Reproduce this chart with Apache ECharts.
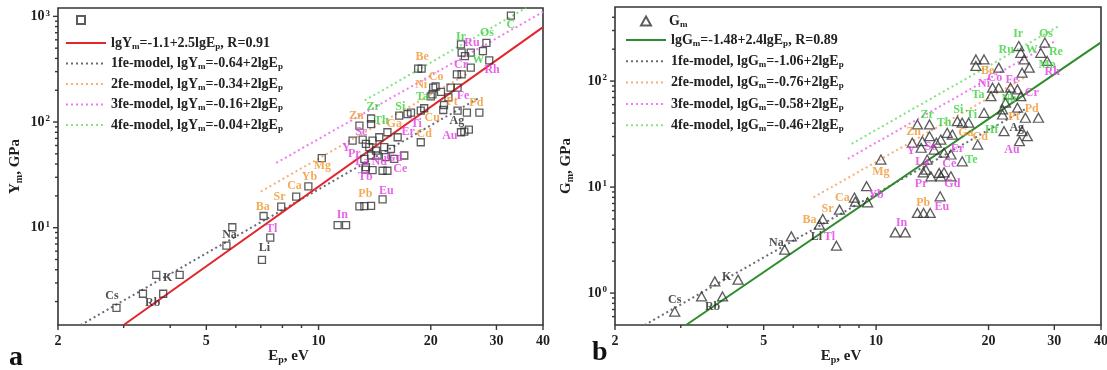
<!DOCTYPE html>
<html><head><meta charset="utf-8">
<script src="https://cdn.jsdelivr.net/npm/echarts@6/dist/echarts.min.js"></script>
<style>html,body{margin:0;padding:0;background:#fff}#c{width:1107px;height:370px}</style>
</head><body><div id="c"></div>
<script>
// ---------- tick values / labels ----------
const X_MAJOR = [2, 5, 10, 20, 30, 40];
const X_MAJOR_LABELS = ['2', '5', '10', '20', '30', '40'];
const X_MINOR = [3, 4, 6, 7, 8, 9];
const YA_MAJOR = [10, 100, 1000];
const YA_MAJOR_EXP = ['1', '2', '3'];
const YA_MINOR = [2,3,4,5,6,7,8,9,20,30,40,50,60,70,80,90,200,300,400,500,600,700,800,900];
const YB_MAJOR = [1, 10, 100];
const YB_MAJOR_EXP = ['0', '1', '2'];
const YB_MINOR = [0.6,0.7,0.8,0.9,2,3,4,5,6,7,8,9,20,30,40,50,60,70,80,90,200,300,400];

// ---------- panel a: Young's modulus Ym vs Ep ----------
const ptsA = [
 [2.87,1.74],[3.38,2.37],[3.83,2.37],[3.67,3.58],[4.24,3.58],[5.66,6.77],[5.87,10.1],
 [7.12,12.9],[7.42,8.05],[7.05,4.96],[7.94,15.8],[8.71,19.7],[9.39,24.6],[10.2,45.6],
 [11.25,10.6],[11.85,10.6],[12.87,15.9],[13.27,16.0],[13.83,16.1],[14.85,18.5],
 [13.35,35.4],[13.96,35.1],[14.85,34.6],[15.3,34.6],[13.4,37.5],[13.27,44.9],[13.83,48.2],
 [14.4,48.2],[15.16,46.5],[15.96,44.9],[12.34,66.7],[13.13,68.2],[13.4,62.1],[13.96,66.7],
 [14.55,71.8],[15.3,80.0],[16.3,71.8],[13.68,57.8],[14.26,53.7],[15.0,57.8],[15.64,55.7],
 [16.98,48.2],[13.83,108],[13.83,95.7],[12.87,92.3],[16.46,115],[17.32,119],[17.7,123],
 [18.8,128],[19.2,135],[18.8,64.4],[18.5,320],[18.9,320],[20.3,212],[20.6,217],[21.3,193],
 [20.2,183],[20.0,175],[22.6,212],[23.6,212],[22.3,171],[21.7,145],[21.6,130],[23.6,128],
 [25.0,123],[27.0,123],[24.1,80],[24.6,81],[25.3,84.6],[23.5,283],[24.2,283],[25.6,327],
 [24.1,542],[24.2,453],[24.7,421],[25.6,453],[27.6,469],[28.2,562],[28.7,383],[32.8,1015]
];
const labelsA = [
 ['Cs',2.79,2.26,'k'],['Rb',3.59,1.94,'k'],['K',3.94,3.33,'k'],['Na',5.77,8.47,'k'],
 ['Li',7.16,6.38,'k'],['Tl',7.48,9.64,'m'],['Ba',7.08,15.9,'o'],['Sr',7.86,19.7,'o'],
 ['Ca',8.62,25.0,'o'],['Yb',9.45,30.4,'o'],['Mg',10.24,38.5,'o'],['In',11.58,13.3,'m'],
 ['Pb',13.35,21.0,'o'],['Eu',15.19,22.4,'m'],['Tb',13.35,30.4,'m'],['Ce',16.56,36.1,'m'],
 ['Nd',14.55,42.0,'m'],['Gd',15.96,45.8,'m'],['La',13.1,42.0,'m'],['Pr',12.47,50.0,'m'],
 ['Y',11.87,56.9,'m'],['Sc',13.02,80.5,'m'],['Zn',12.63,114,'o'],['Zr',14.02,138,'g'],
 ['Th',14.73,102,'g'],['Ga',15.96,95.8,'o'],['Si',16.56,138,'g'],['Ti',18.28,95.8,'m'],
 ['Er',17.4,80.5,'m'],['Cu',20.17,109,'o'],['Cd',19.2,77.1,'o'],['Ta',18.97,172,'g'],
 ['Ni',18.85,223,'o'],['Co',20.68,265,'o'],['Be',18.97,409,'o'],['Pt',22.8,154,'o'],
 ['Pd',26.5,151,'o'],['Fe',24.4,176,'m'],['Ag',23.5,102,'k'],['Au',22.5,73.8,'m'],
 ['Cr',24.1,344,'m'],['W',26.8,391,'g'],['Rh',29.2,309,'m'],['Ru',25.8,566,'m'],
 ['Ir',24.1,644,'g'],['Os',28.3,703,'g'],['C',32.8,836,'g']
];
// line end points
const fitA = [[3.0,1.2],[40,790]];
const fe1A = [[2.3,1.2],[27,170]];
const fe2A = [[7.0,22],[25,285]];
const fe3A = [[7.7,41],[40,1100]];
const fe4A = [[13.3,160],[36,1200]];
const LEG_A = ['lgY{s|m}=-1.1+2.5lgE{s|p}, R=0.91','1fe-model, lgY{s|m}=-0.64+2lgE{s|p}',
 '2fe-model, lgY{s|m}=-0.34+2lgE{s|p}','3fe-model, lgY{s|m}=-0.16+2lgE{s|p}','4fe-model, lgY{s|m}=-0.04+2lgE{s|p}'];

// ---------- panel b: shear modulus Gm vs Ep ----------
const ptsB = [
 [2.89,0.670],[3.41,0.929],[3.88,0.929],[3.70,1.29],[4.27,1.34],[5.69,2.57],[5.93,3.43],
 [7.05,4.42],[7.20,5.01],[7.83,2.80],[7.98,6.13],[8.75,7.96],[8.80,7.29],[9.43,10.2],
 [9.49,7.18],[10.3,18.2],[11.25,3.74],[11.97,3.74],[12.9,5.70],[13.4,5.70],[13.96,5.70],
 [14.84,8.19],[13.37,13.8],[14.02,12.65],[14.9,12.65],[15.86,12.65],[15.2,13.8],[12.9,39.0],
 [13.9,39.0],[12.5,26.2],[13.3,27.1],[13.9,30.2],[14.5,26.2],[14.9,28.1],[15.5,32.5],
 [16.0,31.3],[13.2,23.5],[14.3,22.6],[15.2,21.1],[15.86,20.3],[13.7,18.2],[13.6,14.6],
 [14.75,13.6],[17.0,17.5],[18.7,25.2],[16.5,41.9],[17.0,40.5],[17.7,40.5],[19.45,50.2],
 [18.5,160],[19.45,160],[18.5,139],[21.3,134],[20.5,86.6],[21.3,86.6],[22.9,86.6],
 [23.9,83.5],[20.3,72.1],[22.7,74.8],[24.4,72.1],[22.2,62.5],[21.8,54.0],[23.9,56.1],
 [25.1,45.1],[27.2,45.1],[21.8,48.4],[22.0,33.7],[24.6,33.7],[25.4,30.2],[24.2,27.1],
 [24.1,214],[24.4,185],[24.9,160],[25.7,134],[24.6,120],[27.6,185],[28.3,231],[28.7,155]
];
const labelsB = [
 ['Cs',2.89,0.865,'k'],['Rb',3.65,0.742,'k'],['K',3.98,1.43,'k'],['Na',5.41,2.99,'k'],
 ['Li',6.92,3.40,'k'],['Ba',6.63,4.93,'o'],['Tl',7.50,3.40,'m'],['Sr',7.41,6.26,'o'],
 ['Ca',8.12,7.96,'o'],['Yb',10.0,8.49,'m'],['Mg',10.3,14.0,'o'],['In',11.7,4.62,'m'],
 ['Pb',13.37,7.14,'o'],['Eu',15.0,6.54,'m'],['Pr',13.2,10.8,'m'],['Gd',16.0,10.8,'m'],
 ['La',13.3,17.4,'m'],['Ce',15.7,16.7,'m'],['Te',18.0,18.2,'g'],['Y',12.4,22.1,'m'],
 ['Sc',14.0,24.1,'m'],['Er',16.5,23.1,'m'],['Zn',12.6,33.5,'o'],['Zr',13.7,48.4,'g'],
 ['Th',15.2,40.7,'g'],['Si',16.6,54.0,'g'],['Ti',18.0,48.4,'g'],['Ga',17.4,32.7,'o'],
 ['Cd',19.0,30.0,'o'],['Hf',20.4,35.0,'g'],['Ag',23.8,36.5,'k'],['Au',23.1,22.6,'m'],
 ['Pt',23.4,46.4,'o'],['Pd',26.1,55.2,'o'],['Nb',22.7,68.6,'g'],['Ta',18.75,74.8,'g'],
 ['Ni',19.45,93.1,'m'],['Co',20.8,108,'m'],['Fe',23.1,101.5,'m'],['Be',19.9,126,'o'],
 ['Cr',26.1,78.2,'m'],['Mo',28.7,141,'g'],['Rh',29.6,121,'m'],['Re',30.3,187,'g'],
 ['W',26.1,199,'g'],['Ru',22.3,199,'g'],['Ir',24.0,276,'g'],['Os',28.5,276,'g']
];
const fitB = [[3.1,0.5],[40,232]];
const fe1B = [[2.4,0.5],[25,54]];
const fe2B = [[6.8,8.0],[25,108]];
const fe3B = [[8.4,18.5],[30,236]];
const fe4B = [[8.6,25.6],[31,334]];
const LEG_B = ['lgG{s|m}=-1.48+2.4lgE{s|p}, R=0.89','1fe-model, lgG{s|m}=-1.06+2lgE{s|p}',
 '2fe-model, lgG{s|m}=-0.76+2lgE{s|p}','3fe-model, lgG{s|m}=-0.58+2lgE{s|p}','4fe-model, lgG{s|m}=-0.46+2lgE{s|p}'];

// ---------- styling ----------
const FF = '"Liberation Serif", "DejaVu Serif", serif';
const AX = '#353535';
const LBL_COL = {k:'#262626', o:'#f0962f', m:'#e43ce4', g:'#3ad23a'};
const LINE_COL = ['#6a6a7e', '#f6b07a', '#f07cf0', '#82e482'];
const DOT = [2, 3];

const richSub = {s:{fontSize:9, fontWeight:'bold', fontFamily:FF, color:'#222', verticalAlign:'bottom', lineHeight:16, padding:[7,0,0,0]}};

function mkTicks(gi, vals, dir, len, labels, edge) {
  const data = vals.map(v => dir === 'x' ? [v, edge] : [edge, v]);
  return {
    type:'custom', xAxisIndex:gi, yAxisIndex:gi, silent:true, clip:false, z:6, data,
    renderItem(params, api) {
      const p = api.coord([api.value(0), api.value(1)]);
      const ch = [];
      if (dir === 'x') {
        ch.push({type:'line', shape:{x1:p[0], y1:p[1], x2:p[0], y2:p[1] + len}, style:{stroke:AX, lineWidth:1.4}});
        if (labels) ch.push({type:'text', x:p[0], y:p[1] + 9, style:{text:labels[params.dataIndex], font:'bold 14px ' + FF, fill:'#1e1e1e', align:'center', verticalAlign:'top', textAlign:'center', textVerticalAlign:'top'}});
      } else {
        ch.push({type:'line', shape:{x1:p[0] - len, y1:p[1], x2:p[0], y2:p[1]}, style:{stroke:AX, lineWidth:1.4}});
        if (labels) ch.push({type:'text', x:p[0] - 8, y:p[1], style:{text:'10{sup|' + labels[params.dataIndex] + '}', font:'bold 14px ' + FF, fill:'#1e1e1e', align:'right', verticalAlign:'middle', textAlign:'right', textVerticalAlign:'middle',
          rich:{sup:{fontSize:9, fontWeight:'bold', fontFamily:FF, fill:'#1e1e1e', color:'#1e1e1e', verticalAlign:'top', padding:[0,0,6,1]}}}});
      }
      return {type:'group', children:ch};
    }
  };
}

function mkLabels(gi, arr) {
  return {
    type:'scatter', xAxisIndex:gi, yAxisIndex:gi, silent:true, symbolSize:1, z:7,
    itemStyle:{color:'rgba(0,0,0,0)'}, emphasis:{disabled:true},
    data: arr.map(d => ({name:d[0], value:[d[1], d[2]], label:{color:LBL_COL[d[3]]}})),
    label:{show:true, position:'inside', formatter:p => p.name, fontFamily:FF, fontWeight:'bold', fontSize:12}
  };
}

function mkLine(gi, name, data, color, width, type) {
  return {type:'line', name, xAxisIndex:gi, yAxisIndex:gi, data, showSymbol:false, symbol:'none',
    silent:true, z:3, clip:true, lineStyle:{color, width, type}, itemStyle:{color}};
}

const axisCommon = {splitLine:{show:false}, axisLine:{show:false}, axisTick:{show:false}, axisLabel:{show:false}};
const nameStyle = {fontFamily:FF, fontWeight:'bold', fontSize:15, color:'#1e1e1e',
  rich:{s:{fontSize:10, fontWeight:'bold', fontFamily:FF, color:'#1e1e1e', verticalAlign:'bottom', padding:[8,0,0,0]}}};

const legTextA = {fontFamily:FF, fontWeight:'bold', fontSize:14, color:'#222', lineHeight:16, rich:richSub};
const hideSym = {opacity:0};

const option = {
  animation:false,
  backgroundColor:'#fff',
  grid:[
    {left:58, top:8, width:485, height:319, show:true, borderColor:AX, borderWidth:1.6, backgroundColor:'transparent'},
    {left:615, top:7, width:486, height:318, show:true, borderColor:AX, borderWidth:1.6, backgroundColor:'transparent'}
  ],
  xAxis:[
    Object.assign({type:'log', logBase:10, min:2, max:40, gridIndex:0, name:'E{s|p}, eV', nameLocation:'middle', nameGap:22,
      nameTextStyle:Object.assign({padding:[0,24,0,0]}, nameStyle)}, axisCommon),
    Object.assign({type:'log', logBase:10, min:2, max:40, gridIndex:1, name:'E{s|p}, eV', nameLocation:'middle', nameGap:22,
      nameTextStyle:Object.assign({padding:[0,34,0,0]}, nameStyle)}, axisCommon)
  ],
  yAxis:[
    Object.assign({type:'log', logBase:10, min:1.2, max:1200, gridIndex:0, name:'Y{s|m}, GPa', nameLocation:'middle', nameRotate:90, nameGap:34,
      nameTextStyle:nameStyle}, axisCommon),
    Object.assign({type:'log', logBase:10, min:0.5, max:500, gridIndex:1, name:'G{s|m}, GPa', nameLocation:'middle', nameRotate:90, nameGap:40,
      nameTextStyle:nameStyle}, axisCommon)
  ],
  legend:[
    {data:['Ym'], left:71, top:10, itemWidth:8, itemHeight:8, selectedMode:false, formatter:() => '', textStyle:{fontSize:1}},
    {data:LEG_A, orient:'vertical', left:60, top:30, itemWidth:40, itemHeight:14, itemGap:4.5, selectedMode:false, textStyle:legTextA, itemStyle:hideSym},
    {data:['G{s|m}'], left:635, top:8, itemWidth:10, itemHeight:9, selectedMode:false, textStyle:Object.assign({padding:[0,0,0,13]}, legTextA)},
    {data:LEG_B, orient:'vertical', left:620, top:27, itemWidth:40, itemHeight:14, itemGap:5.3, selectedMode:false, textStyle:legTextA, itemStyle:hideSym}
  ],
  graphic:[
    {type:'text', left:9, top:344, style:{text:'a', font:'bold 28px ' + FF, fill:'#111'}},
    {type:'text', left:592, top:339, style:{text:'b', font:'bold 28px ' + FF, fill:'#111'}}
  ],
  series:[
    // panel a
    mkLine(0, LEG_A[1], fe1A, LINE_COL[0], 2, DOT),
    mkLine(0, LEG_A[2], fe2A, LINE_COL[1], 2, DOT),
    mkLine(0, LEG_A[3], fe3A, LINE_COL[2], 2, DOT),
    mkLine(0, LEG_A[4], fe4A, LINE_COL[3], 2, DOT),
    mkLine(0, LEG_A[0], fitA, '#e2262b', 2, 'solid'),
    {type:'scatter', name:'Ym', xAxisIndex:0, yAxisIndex:0, data:ptsA, symbol:'rect', symbolSize:7, z:5, silent:true,
      itemStyle:{color:'rgba(255,255,255,0)', borderColor:'#333', borderWidth:1.3}},
    mkLabels(0, labelsA),
    mkTicks(0, X_MAJOR, 'x', 5, X_MAJOR_LABELS, 1.2),
    mkTicks(0, X_MINOR, 'x', 3, null, 1.2),
    mkTicks(0, YA_MAJOR, 'y', 5, YA_MAJOR_EXP, 2),
    mkTicks(0, YA_MINOR, 'y', 3, null, 2),
    // panel b
    mkLine(1, LEG_B[1], fe1B, LINE_COL[0], 2, DOT),
    mkLine(1, LEG_B[2], fe2B, LINE_COL[1], 2, DOT),
    mkLine(1, LEG_B[3], fe3B, LINE_COL[2], 2, DOT),
    mkLine(1, LEG_B[4], fe4B, LINE_COL[3], 2, DOT),
    mkLine(1, LEG_B[0], fitB, '#2e8b2e', 2, 'solid'),
    {type:'scatter', name:'G{s|m}', xAxisIndex:1, yAxisIndex:1, data:ptsB, symbol:'triangle', symbolSize:[10,9], z:5, silent:true,
      itemStyle:{color:'rgba(255,255,255,0)', borderColor:'#333', borderWidth:1.3}},
    mkLabels(1, labelsB),
    mkTicks(1, X_MAJOR, 'x', 5, X_MAJOR_LABELS, 0.5),
    mkTicks(1, X_MINOR, 'x', 3, null, 0.5),
    mkTicks(1, YB_MAJOR, 'y', 5, YB_MAJOR_EXP, 2),
    mkTicks(1, YB_MINOR, 'y', 3, null, 2)
  ]
};
const chart = echarts.init(document.getElementById('c'), null, {renderer:'canvas'});
chart.setOption(option);
</script></body></html>
